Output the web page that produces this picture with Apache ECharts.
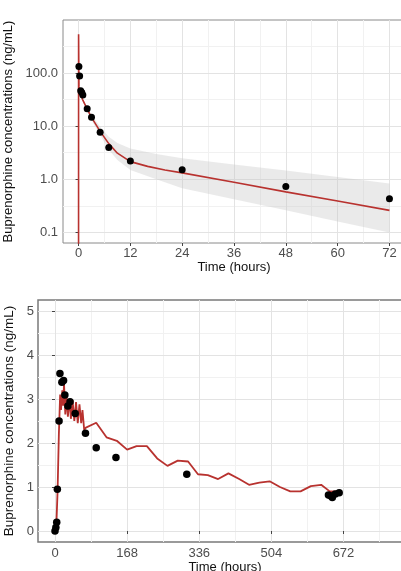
<!DOCTYPE html>
<html>
<head>
<meta charset="utf-8">
<script src="https://cdn.jsdelivr.net/npm/echarts@6/dist/echarts.min.js"></script>
<style>
html,body{margin:0;padding:0;background:#fff;}
#c{width:401px;height:571px;}
</style>
</head>
<body>
<div id="c"></div>
<script>
// ---- Panel A: first 72 hours (log scale) ----
const topObsTime = [0.083, 0.25, 0.5, 0.75, 1, 2, 3, 5, 7, 12, 24, 48, 72];
const topObsConc = [133, 88, 46.5, 43, 38.6, 21.4, 14.7, 7.7, 3.98, 2.2, 1.51, 0.73, 0.43];
const topPredTime = [0, 0.01, 0.1, 0.25, 0.5, 1, 2, 3, 5, 7, 9, 12, 16, 20, 24, 36, 48, 60, 72];
const topPredConc = [0.001, 540, 55, 45, 39, 31, 21, 14.7, 8, 4.7, 3.1, 2.15, 1.75, 1.5, 1.32, 0.88, 0.58, 0.39, 0.26];
const bandTime = [1, 2, 3, 5, 7, 9, 12, 18, 24, 36, 48, 60, 72];
const bandHi = [31, 23, 16.5, 9.8, 6.3, 4.8, 3.8, 3.0, 2.5, 1.9, 1.47, 1.1, 0.83];
const bandLo = [29, 19.5, 13, 6.8, 3.6, 2.3, 1.5, 1.0, 0.68, 0.42, 0.26, 0.16, 0.10];
const topXTicks = [0, 12, 24, 36, 48, 60, 72];
const topXMinor = [6, 18, 30, 42, 54, 66];
const topYTicks = [0.1, 1, 10, 100];
const topYMinor = [0.3162, 3.162, 31.62, 316.2];

// ---- Panel B: 672 hours (linear scale) ----
const botObsTime = [0, 2, 4, 5.5, 9.5, 11.5, 16, 20, 23, 30, 35, 47, 71, 96, 142, 307, 637, 642, 646, 653, 662];
const botObsConc = [0, 0.08, 0.2, 0.95, 2.5, 3.58, 3.38, 3.42, 3.09, 2.84, 2.94, 2.67, 2.22, 1.89, 1.67, 1.29, 0.82, 0.80, 0.76, 0.84, 0.87];
const botPredTime = [0, 3, 6, 9, 12, 14, 17, 19, 21, 24, 27, 30, 34, 37, 41, 45, 49, 53, 57, 61, 64, 68, 72, 96, 120, 144, 168, 190, 214, 238, 262, 286, 310, 333, 356, 380, 404, 429, 452, 476, 500, 524, 548, 572, 596, 620, 640, 666];
const botPredConc = [0, 0.1, 0.9, 2.2, 3.1, 2.75, 3.2, 2.85, 3.35, 2.65, 3.05, 2.6, 3.0, 2.55, 2.97, 2.5, 2.93, 2.45, 2.88, 2.45, 2.75, 2.3, 2.35, 2.46, 2.13, 2.05, 1.85, 1.93, 1.93, 1.65, 1.48, 1.6, 1.58, 1.29, 1.27, 1.18, 1.31, 1.18, 1.05, 1.1, 1.13, 1.0, 0.9, 0.9, 1.02, 1.05, 0.9, 0.9];
const botXTicks = [0, 168, 336, 504, 672];
const botXMinor = [84, 252, 420, 588, 756];
const botYTicks = [0, 1, 2, 3, 4, 5];
const botYMinor = [0.5, 1.5, 2.5, 3.5, 4.5];

const FONT = '"Liberation Sans", Arial, sans-serif';
const RED = '#B8322F';
const MAJOR = '#e3e3e3';
const MINOR = '#f1f1f1';
const zip = (a, b) => a.map((v, i) => [v, b[i]]);

function majorAxis(type, gridIndex, min, max, ticks, extra) {
  return Object.assign({
    type: type, gridIndex: gridIndex, min: min, max: max, z: 1,
    axisLine: { show: false },
    axisTick: { show: true, length: 3, lineStyle: { color: '#444', width: 1 }, customValues: ticks },
    axisLabel: { show: true, customValues: ticks, color: '#4d4d4d', fontSize: 13, fontFamily: FONT },
    splitLine: { show: true, lineStyle: { color: MAJOR, width: 1 } },
    minorTick: { show: false }, minorSplitLine: { show: false },
    nameLocation: 'middle',
    nameTextStyle: { color: '#111', fontSize: 13, fontFamily: FONT }
  }, extra || {});
}
function minorAxis(type, gridIndex, min, max, ticks) {
  return {
    type: type, gridIndex: gridIndex, min: min, max: max, z: 0,
    axisLine: { show: false },
    axisTick: { show: false, customValues: ticks },
    axisLabel: { show: false, customValues: ticks },
    splitLine: { show: true, lineStyle: { color: MINOR, width: 1 } }
  };
}

const chart = echarts.init(document.getElementById('c'), null, { renderer: 'canvas' });
chart.setOption({
  animation: false,
  backgroundColor: '#fff',
  grid: [
    { left: 63, top: 20, width: 342, height: 223, show: true, borderColor: '#8a8a8a', borderWidth: 1, backgroundColor: 'transparent', containLabel: false, outerBoundsMode: 'none' },
    { left: 38, top: 300, width: 374, height: 242, show: true, borderColor: '#7a7a7a', borderWidth: 1.5, backgroundColor: 'transparent', containLabel: false, outerBoundsMode: 'none' }
  ],
  xAxis: [
    majorAxis('value', 0, -3.6, 75.6, topXTicks, { name: 'Time (hours)', nameGap: 17, axisLabel: { customValues: topXTicks, margin: 4, color: '#4d4d4d', fontSize: 13, fontFamily: FONT } }),
    minorAxis('value', 0, -3.6, 75.6, topXMinor),
    majorAxis('value', 1, -39.6, 831.6, botXTicks, { name: 'Time (hours)', nameGap: 18, axisLabel: { customValues: botXTicks, margin: 5, color: '#4d4d4d', fontSize: 13, fontFamily: FONT } }),
    minorAxis('value', 1, -39.6, 831.6, botXMinor)
  ],
  yAxis: [
    majorAxis('log', 0, Math.pow(10, -1.2), 1000, topYTicks, { logBase: 10, name: 'Buprenorphine concentrations (ng/mL)', nameGap: 42, nameRotate: 90,
      axisLabel: { customValues: topYTicks, margin: 5, color: '#4d4d4d', fontSize: 13, fontFamily: FONT, formatter: v => Number(v).toFixed(1) } }),
    Object.assign(minorAxis('log', 0, Math.pow(10, -1.2), 1000, topYMinor), { logBase: 10 }),
    majorAxis('value', 1, -0.25, 5.25, botYTicks, { name: 'Buprenorphine concentrations (ng/mL)', nameGap: 17, nameRotate: 90,
      nameTextStyle: { color: '#111', fontSize: 13.5, fontFamily: FONT },
      axisLabel: { customValues: botYTicks, margin: 4, color: '#4d4d4d', fontSize: 13, fontFamily: FONT } }),
    minorAxis('value', 1, -0.25, 5.25, botYMinor)
  ],
  series: [
    {
      type: 'custom', xAxisIndex: 0, yAxisIndex: 0, z: 2, silent: true,
      data: bandTime.map((t, i) => [t, bandLo[i], bandHi[i]]),
      encode: { x: 0, y: [1, 2] },
      renderItem: function (params, api) {
        if (params.dataIndex !== 0) return null;
        const pts = [];
        for (let i = 0; i < bandTime.length; i++) pts.push(api.coord([bandTime[i], bandHi[i]]));
        for (let i = bandTime.length - 1; i >= 0; i--) pts.push(api.coord([bandTime[i], bandLo[i]]));
        return { type: 'polygon', shape: { points: pts }, style: { fill: 'rgba(200,200,200,0.38)' } };
      }
    },
    {
      type: 'line', xAxisIndex: 0, yAxisIndex: 0, z: 3, showSymbol: false, silent: true, clip: true,
      data: zip(topPredTime, topPredConc),
      lineStyle: { color: RED, width: 1.6 }
    },
    {
      type: 'scatter', xAxisIndex: 0, yAxisIndex: 0, z: 4, silent: true,
      data: zip(topObsTime, topObsConc),
      symbol: 'circle', symbolSize: 7, itemStyle: { color: '#000', opacity: 1 }
    },
    {
      type: 'line', xAxisIndex: 2, yAxisIndex: 2, z: 3, showSymbol: false, silent: true, clip: true,
      data: zip(botPredTime, botPredConc),
      lineStyle: { color: RED, width: 1.8 }
    },
    {
      type: 'scatter', xAxisIndex: 2, yAxisIndex: 2, z: 4, silent: true,
      data: zip(botObsTime, botObsConc),
      symbol: 'circle', symbolSize: 7.5, itemStyle: { color: '#000', opacity: 1 }
    }
  ]
});
</script>
</body>
</html>
